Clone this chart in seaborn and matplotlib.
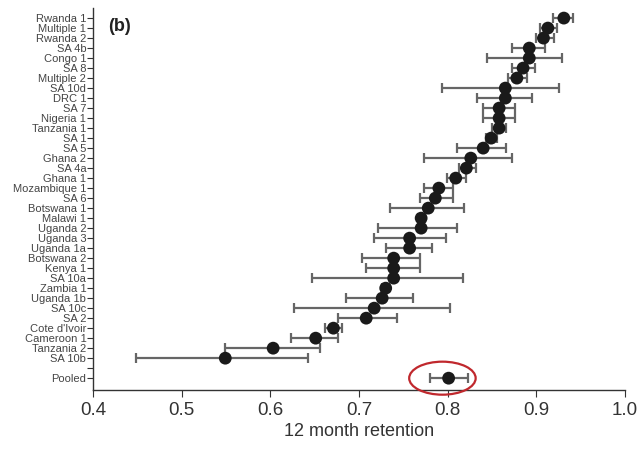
import numpy as np
import pandas as pd
import seaborn as sns
import matplotlib.pyplot as plt
from matplotlib.patches import Ellipse


# study labels, top to bottom (blank row before the pooled estimate)
studies = ['Rwanda 1', 'Multiple 1', 'Rwanda 2', 'SA 4b', 'Congo 1', 'SA 8', 'Multiple 2',
           'SA 10d', 'DRC 1', 'SA 7', 'Nigeria 1', 'Tanzania 1', 'SA 1', 'SA 5', 'Ghana 2',
           'SA 4a', 'Ghana 1', 'Mozambique 1', 'SA 6', 'Botswana 1', 'Malawi 1', 'Uganda 2',
           'Uganda 3', 'Uganda 1a', 'Botswana 2', 'Kenya 1', 'SA 10a', 'Zambia 1', 'Uganda 1b',
           'SA 10c', 'SA 2', "Cote d'Ivoir", 'Cameroon 1', 'Tanzania 2', 'SA 10b', '', 'Pooled']

retention = [0.931, 0.913, 0.908, 0.892, 0.892, 0.885, 0.878, 0.865, 0.865, 0.858, 0.858,
             0.858, 0.849, 0.840, 0.826, 0.821, 0.809, 0.790, 0.786, 0.778, 0.770, 0.770,
             0.757, 0.757, 0.739, 0.739, 0.739, 0.730, 0.726, 0.717, 0.708, 0.671, 0.651,
             0.603, 0.549, np.nan, 0.801]

lower = [0.919, 0.904, 0.900, 0.872, 0.844, 0.872, 0.868, 0.793, 0.833, 0.840, 0.840,
         0.850, 0.843, 0.810, 0.773, 0.813, 0.799, 0.773, 0.769, 0.735, 0.766, 0.721,
         0.717, 0.730, 0.703, 0.708, 0.647, 0.726, 0.685, 0.627, 0.676, 0.662, 0.623,
         0.549, 0.448, np.nan, 0.780]

upper = [0.941, 0.923, 0.920, 0.910, 0.929, 0.898, 0.889, 0.926, 0.895, 0.876, 0.876,
         0.866, 0.856, 0.866, 0.872, 0.832, 0.821, 0.806, 0.806, 0.818, 0.774, 0.810,
         0.798, 0.782, 0.769, 0.769, 0.817, 0.734, 0.761, 0.803, 0.743, 0.681, 0.676,
         0.656, 0.642, np.nan, 0.823]


def main():
    sns.set_style('ticks')
    plt.rcParams['font.family'] = ['Liberation Sans', 'DejaVu Sans']

    df = pd.DataFrame({'study': studies, 'retention': retention,
                       'lower': lower, 'upper': upper})
    df['row'] = np.arange(len(df))
    d = df.dropna()

    fig = plt.figure(figsize=(6.43, 4.49), dpi=100)
    ax = fig.add_axes([0.145, 0.131, 0.827, 0.851])

    ax.errorbar(d['retention'], d['row'],
                xerr=[d['retention'] - d['lower'], d['upper'] - d['retention']],
                fmt='none', ecolor='#666666', elinewidth=1.6, capsize=3.6, capthick=1.6,
                zorder=2)
    sns.scatterplot(data=d, x='retention', y='row', ax=ax, color='#1a1a1a',
                    s=85, edgecolor='none', zorder=3, legend=False)

    ax.set_xlim(0.4, 1.0)
    ax.set_ylim(len(df) + 0.2, -1)
    ax.set_xticks([0.4, 0.5, 0.6, 0.7, 0.8, 0.9, 1.0])
    ax.set_xticklabels(['0.4', '0.5', '0.6', '0.7', '0.8', '0.9', '1.0'])
    ax.set_yticks(df['row'])
    ax.set_yticklabels(df['study'])
    ax.tick_params(axis='y', labelsize=8, length=4, pad=1, colors='#333333', labelcolor='#444444')
    ax.tick_params(axis='x', labelsize=13.5, length=5, colors='#333333', labelcolor='#333333')
    ax.set_xlabel('12 month retention', fontsize=13, color='#333333', labelpad=3)
    ax.set_ylabel('')
    sns.despine(ax=ax)
    for s in ['left', 'bottom']:
        ax.spines[s].set_color('#333333')
        ax.spines[s].set_linewidth(1.0)

    ax.text(0.028, 0.975, '(b)', transform=ax.transAxes, fontsize=13,
            fontweight='bold', va='top', ha='left', color='#222222')

    # highlight the pooled estimate
    pooled = d[d['study'] == 'Pooled']
    ax.add_patch(Ellipse((float(pooled['retention'].iloc[0]) - 0.007, float(pooled['row'].iloc[0])),
                         width=0.075, height=3.3, fill=False, edgecolor='#c0282d',
                         linewidth=1.6, clip_on=False, zorder=4))

    fig.savefig('out.png', dpi=100)


if __name__ == '__main__':
    main()
